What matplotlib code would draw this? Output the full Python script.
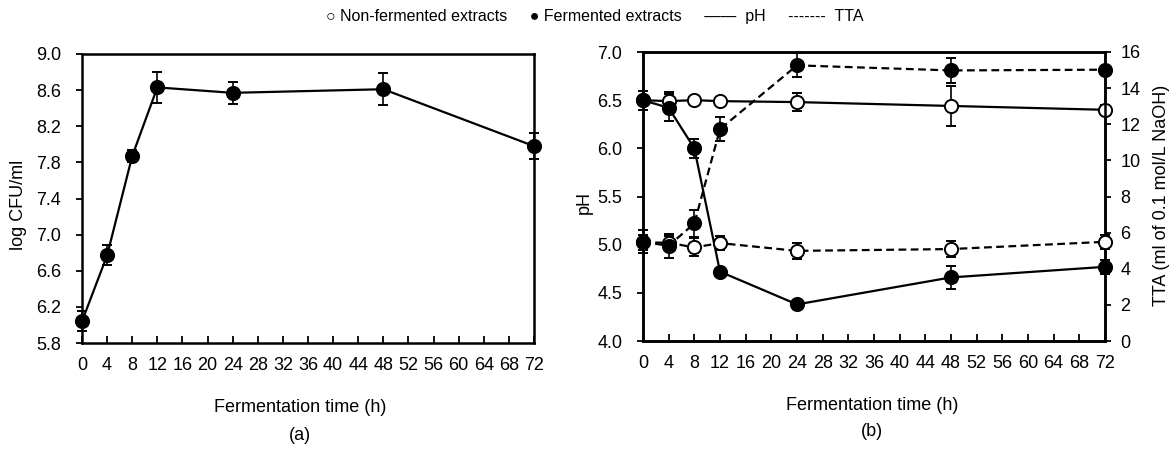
"""
Viable counts, pH and TTA during fermentation, two panels.
"""

import matplotlib

matplotlib.use("Agg")
import matplotlib.pyplot as plt
import numpy as np
from matplotlib.ticker import FormatStrFormatter

plt.rcParams["font.family"] = ["Liberation Sans", "DejaVu Sans"]
plt.rcParams["font.size"] = 13

hours = [0, 4, 8, 12, 24, 48, 72]

# (a) viable counts, fermented extracts
cfu = [6.04, 6.77, 7.87, 8.63, 8.57, 8.61, 7.98]
cfu_err = [0.11, 0.11, 0.07, 0.17, 0.12, 0.18, 0.14]

# (b) pH
ph_ferm = [6.50, 6.42, 6.00, 4.72, 4.38, 4.66, 4.77]
ph_ferm_err = [0.10, 0.14, 0.10, 0.03, 0.02, 0.12, 0.07]
ph_nonferm = [6.50, 6.49, 6.50, 6.49, 6.48, 6.44, 6.40]
ph_nonferm_err = [0.03, 0.09, 0.01, 0.01, 0.09, 0.21, 0.05]

# (b) TTA, ml of 0.1 mol/L NaOH
tta_ferm = [5.49, 5.27, 6.51, 11.73, 15.26, 14.98, 15.02]
tta_ferm_err = [0.63, 0.68, 0.74, 0.68, 0.67, 0.69, 0.2]
tta_nonferm = [5.46, 5.44, 5.18, 5.42, 4.99, 5.09, 5.49]
tta_nonferm_err = [0.4, 0.4, 0.5, 0.4, 0.45, 0.45, 0.4]

x_ticks = np.arange(0, 73, 4)

W, H = 1175, 449
LW = 1.6
MS = 9.5
CAP = 3.5


def px_box(left, top, right, bottom):
    return [left / W, 1 - bottom / H, (right - left) / W, (bottom - top) / H]


def style_axis(ax):
    for side in ax.spines.values():
        side.set_linewidth(1.8)
    ax.set_xlim(0, 72)
    ax.set_xticks(x_ticks)
    ax.tick_params(axis="x", direction="in", length=5, width=1.3, pad=10)
    ax.tick_params(axis="y", direction="out", length=4, width=1.3, pad=11)


def series(ax, y, err, filled, dashed):
    ax.errorbar(
        hours, y, yerr=err,
        color="black", lw=LW, ls=(0, (3.5, 2)) if dashed else "-",
        marker="o", ms=MS,
        mfc="black" if filled else "white", mec="black", mew=1.4,
        ecolor="black", elinewidth=1.2, capsize=CAP, capthick=1.2,
        clip_on=False, zorder=3,
    )


fig = plt.figure(figsize=(W / 100, H / 100), dpi=100)

ax1 = fig.add_axes(px_box(82, 54, 534, 343))
ax2 = fig.add_axes(px_box(643, 52, 1105, 341))

# (a)
series(ax1, cfu, cfu_err, True, False)
style_axis(ax1)
ax1.set_ylim(5.8, 9.0)
ax1.set_yticks(np.arange(5.8, 9.01, 0.4))
ax1.yaxis.set_major_formatter(FormatStrFormatter("%.1f"))

# (b)
series(ax2, ph_nonferm, ph_nonferm_err, False, False)
series(ax2, ph_ferm, ph_ferm_err, True, False)
style_axis(ax2)
ax2.set_ylim(4.0, 7.0)
ax2.set_yticks(np.arange(4.0, 7.01, 0.5))
ax2.yaxis.set_major_formatter(FormatStrFormatter("%.1f"))

ax3 = ax2.twinx()
series(ax3, tta_nonferm, tta_nonferm_err, False, True)
series(ax3, tta_ferm, tta_ferm_err, True, True)
ax3.set_ylim(0, 16)
ax3.set_yticks(np.arange(0, 17, 2))
ax3.tick_params(axis="y", direction="out", length=4, width=1.3, pad=7)
for side in ax3.spines.values():
    side.set_linewidth(1.8)

# axis titles, placed in pixels
def label(x, y, s, rot=0):
    fig.text(x / W, 1 - y / H, s, ha="center", va="center", rotation=rot)


label(19, 205, "log CFU/ml", 90)
label(584, 203, "pH", 90)
label(1162, 195, "TTA (ml of 0.1 mol/L NaOH)", 90)
label(300, 408, "Fermentation time (h)")
label(300, 435, "(a)")
label(872, 406, "Fermentation time (h)")
label(872, 432, "(b)")

fig.text(
    595 / W, 1 - 17 / H,
    "\u25cb Non-fermented extracts     \u25cf Fermented extracts     "
    "\u2014\u2014  pH     -------  TTA",
    ha="center", va="center", fontsize=11.5,
)

fig.savefig("out.png", dpi=100)
